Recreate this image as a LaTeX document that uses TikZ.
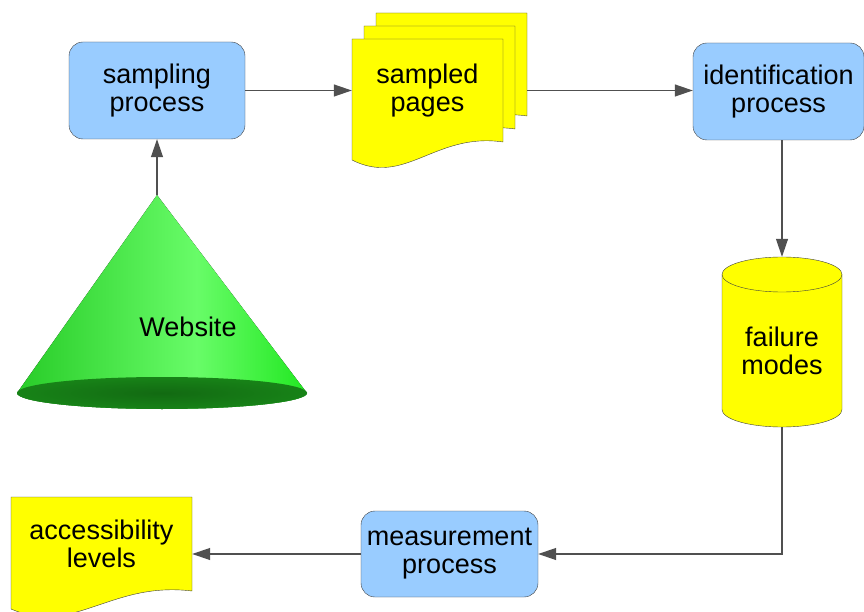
\documentclass[tikz,border=0pt]{standalone}
\usepackage{fontspec}
\setmainfont{Liberation Sans}
\usetikzlibrary{arrows.meta}

\definecolor{procblue}{RGB}{153,204,255}
\definecolor{docyellow}{RGB}{255,255,0}
\definecolor{edgegray}{RGB}{64,64,64}
\definecolor{linegray}{RGB}{80,80,80}
\definecolor{coneside}{RGB}{40,204,40}
\definecolor{conelight}{RGB}{104,252,104}
\definecolor{conefront}{RGB}{34,232,34}
\definecolor{conebase}{RGB}{18,106,18}
\pgfdeclarehorizontalshading{conegreen}{100bp}{color(0bp)=(coneside); color(25bp)=(coneside);
  color(56bp)=(conelight); color(75bp)=(conefront); color(100bp)=(conefront)}

% one page of a document: left, top, width, height
\newcommand{\docsheet}[4]{%
  \filldraw[sheet] (#1,#2) -- ++(#3,0) -- ++(0,-#4)
    .. controls +(-0.45*#3,10) and +(0.35*#3,-27) .. ++(-#3,-18) -- cycle;}

\begin{document}
\begin{tikzpicture}[x=1pt,y=1pt,
  font=\fontsize{27}{28}\selectfont,
  >={Triangle[length=18pt,width=12pt]},
  proc/.style={draw=edgegray,fill=procblue,rounded corners=14pt,align=center,
    minimum width=#1,minimum height=97pt,inner sep=0pt},
  sheet/.style={draw=edgegray,fill=docyellow},
  txt/.style={align=center,inner sep=0pt},
  link/.style={->,draw=linegray,line width=1.2pt}]
\useasboundingbox (0,0) rectangle (864,611);

% the website cone
\fill[shading=conegreen] (157,416) -- (307,218) arc (0:-180:145 and 16) -- cycle;
\shade[inner color=conebase,outer color=conebase!75!coneside] (162,218) ellipse (145 and 16);
\node (site) at (188,284) {Website};
\coordinate (apex) at (157,416);

\node[proc=176pt] (sampling) at (157,520.5) {sampling\\process};

% stack of sampled pages
\docsheet{376}{598}{151}{103}
\docsheet{364}{585}{151}{103}
\docsheet{352}{572}{151}{103}
\node[txt,minimum width=151pt,minimum height=103pt] (pages) at (427.5,520.5) {sampled\\pages};
\coordinate (stack) at (527,520.5);

\node[proc=171pt] (ident) at (778.5,519.5) {identification\\process};

% failure modes store
\filldraw[sheet] (722,336.5) -- (722,201.5) arc (180:360:60 and 17.5)
  -- (842,336.5) arc (0:180:60 and 17.5) -- cycle;
\draw[edgegray] (722,336.5) arc (180:360:60 and 17.5);
\node[txt,minimum width=120pt,minimum height=170pt,
  label={[txt,yshift=-9pt]center:failure\\modes}] (modes) at (782,269) {};

\node[proc=177pt,minimum height=86pt] (measure) at (449.5,57) {measurement\\process};

\docsheet{11}{114}{181}{94}
\node[txt,minimum width=181pt,minimum height=94pt] (levels) at (101.5,67) {accessibility\\levels};

\draw[link] (apex) -- (sampling.south);
\draw[link] (sampling.east) -- (sampling.east -| pages.west);
\draw[link] (stack) -- (stack -| ident.west);
\draw[link] (ident.south -| modes.north) -- (modes.north);
\draw[link] (modes.south) |- (measure.east);
\draw[link] (measure.west) -- (measure.west -| levels.east);
\end{tikzpicture}
\end{document}
